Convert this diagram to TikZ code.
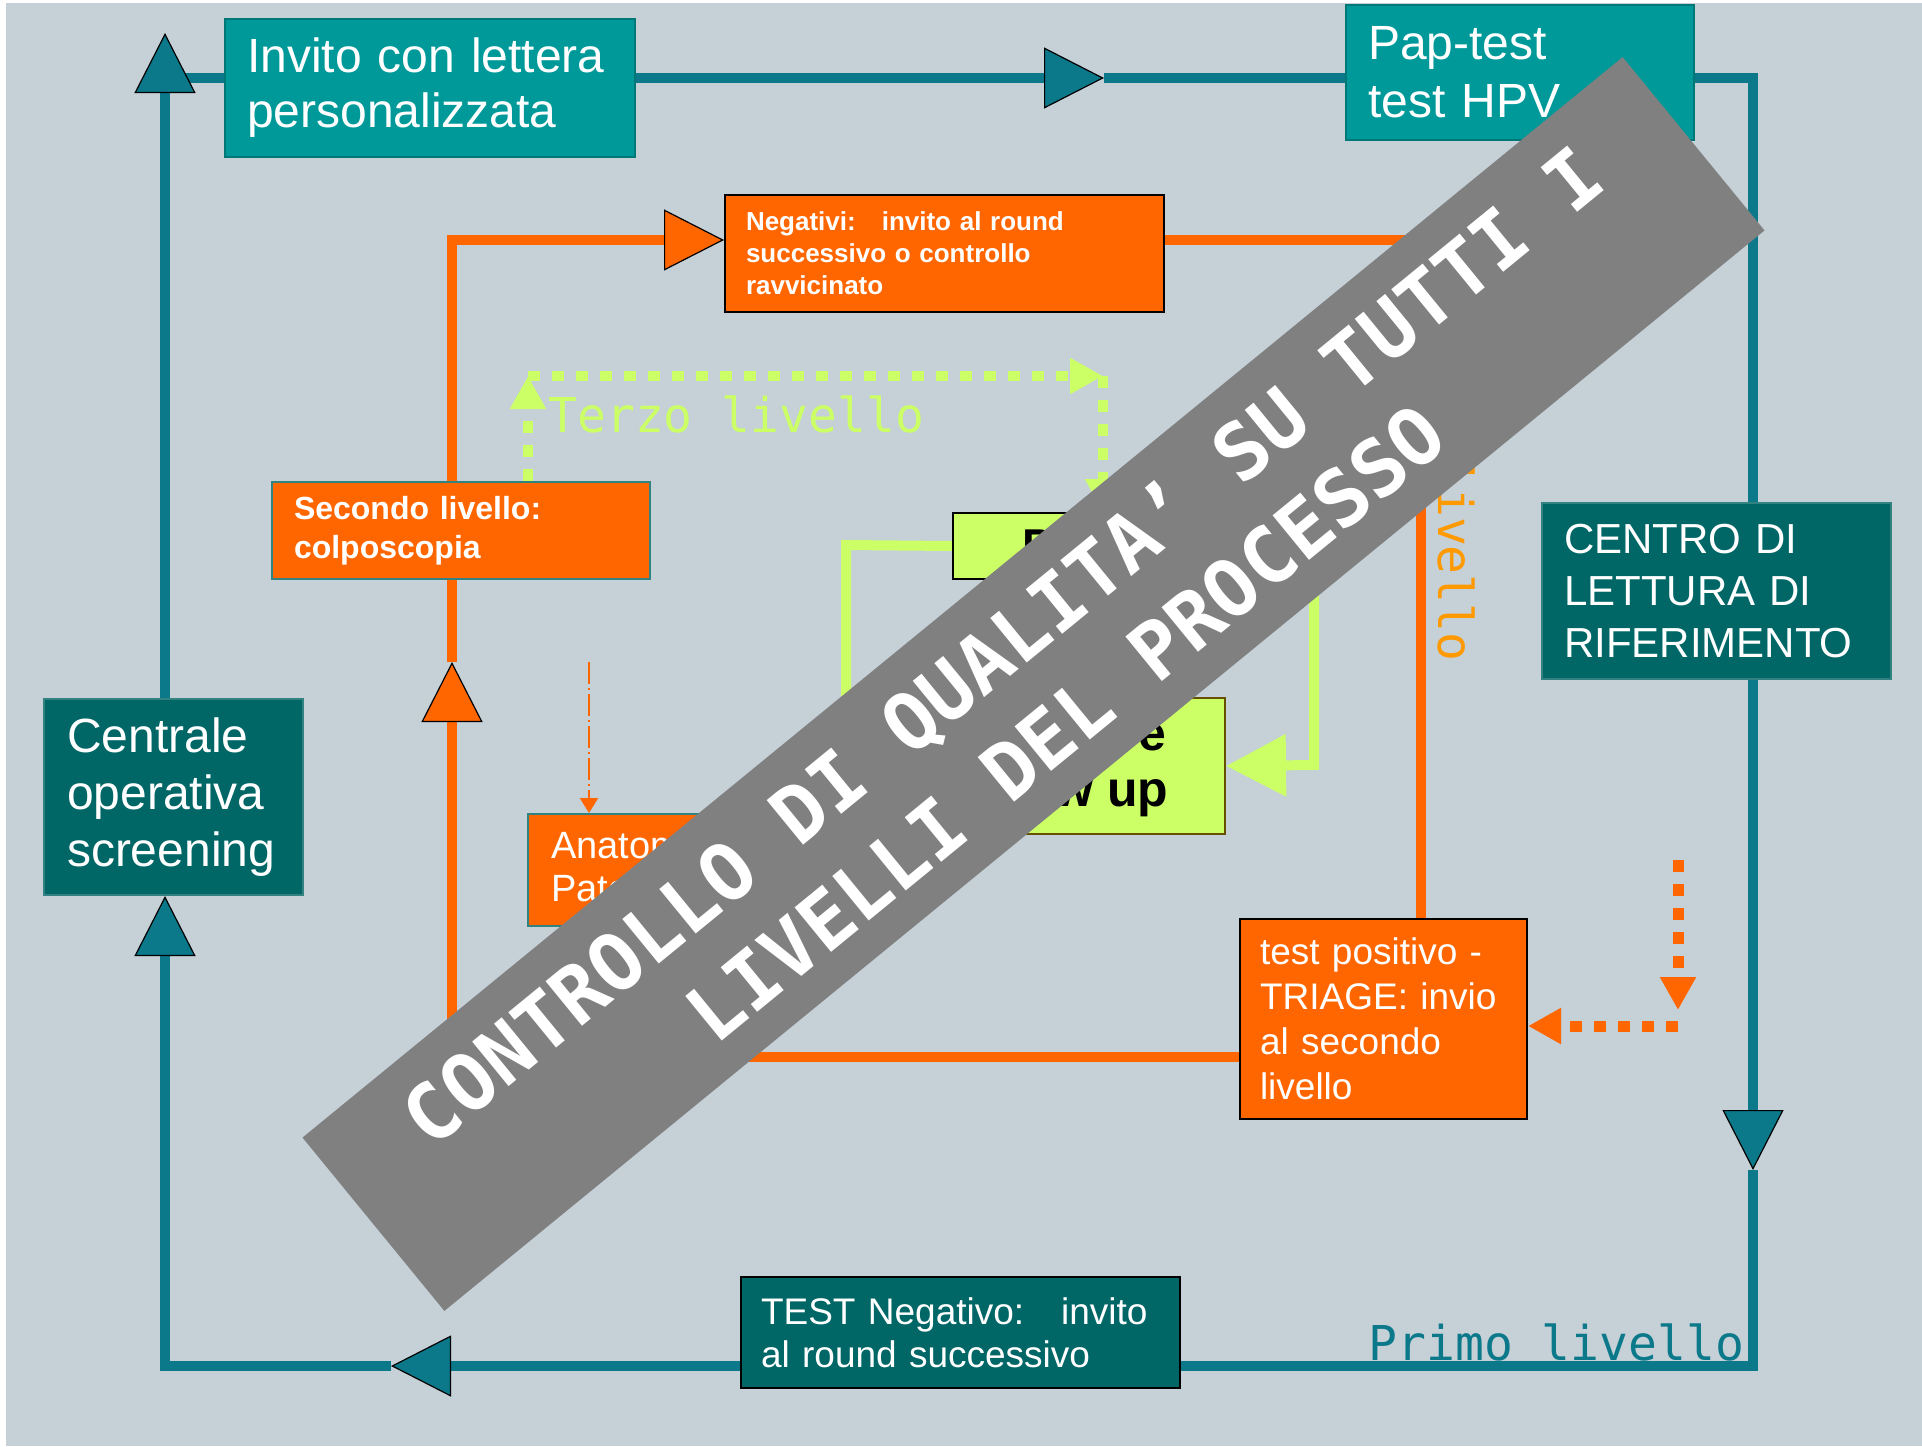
\documentclass[tikz,border=0pt]{standalone}
\usepackage{tikz}
\usepackage{xcolor}
\usepackage{fontspec}
\setmainfont{Liberation Sans}
\newfontfamily\codefont{DejaVu Sans Mono}
\usetikzlibrary{arrows.meta}
\pgfdeclarelayer{back}
\pgfdeclarelayer{lines}
\pgfsetlayers{back,lines,main}
\definecolor{bgcol}{RGB}{197,208,215}
\definecolor{lineblue}{RGB}{12,121,139}
\definecolor{tealbox}{RGB}{0,153,153}
\definecolor{tealedge}{RGB}{0,120,120}
\definecolor{darkteal}{RGB}{0,102,102}
\definecolor{darkedge}{RGB}{50,130,130}
\definecolor{lineorange}{RGB}{255,102,0}
\definecolor{labelorange}{RGB}{255,153,0}
\definecolor{linegreen}{RGB}{204,255,102}
\definecolor{greenedge}{RGB}{102,80,0}
\definecolor{bannergrey}{RGB}{128,128,128}
\tikzset{%
  tipB/.tip={Triangle[length=30pt,width=30.5pt,line width=.6pt,color=black,fill=lineblue]},
  tipO/.tip={Triangle[length=30pt,width=30.5pt,line width=.6pt,color=black,fill=lineorange]},
  tipG/.tip={Triangle[length=30pt,width=30pt]},
  tipD/.tip={Triangle[length=16.5pt,width=17pt]},
  tipS/.tip={Triangle[length=7.5pt,width=9pt]},
  bline/.style={color=lineblue, line width=5pt},
  oline/.style={color=lineorange, line width=5pt},
  gline/.style={color=linegreen, line width=5pt},
  odots/.style={color=lineorange, line width=5.5pt, dash pattern=on 6pt off 6pt},
  gdots/.style={color=linegreen, line width=5pt, dash pattern=on 6pt off 6pt},
  ddash/.style={color=lineorange, line width=1pt, dash pattern=on 11pt off 2pt on 1pt off 2pt},
  boxL/.style={anchor=north west, inner ysep=0pt, align=left, text=white, line width=1pt},
  boxC/.style={anchor=north west, inner sep=0pt, align=center, text=black, line width=1pt, fill=linegreen},
  lbl/.style={inner sep=0pt, font=\codefont\fontsize{24}{28}\selectfont},
}

\begin{document}
\begin{tikzpicture}[x=0.5pt,y=-0.5pt]

\useasboundingbox (0,0) rectangle (1922,1446);
\begin{pgfonlayer}{back}
\fill[bgcol] (6,3) rectangle (1922,1446);
\end{pgfonlayer}

% boxes
\node[boxL, fill=tealbox, draw=tealedge, minimum width=205pt, minimum height=69pt, inner xsep=11pt, text width=183pt, font=\fontsize{24}{27.5}\selectfont] (inv) at (224,18) {Invito con lettera\\personalizzata};
\node[boxL, fill=tealbox, draw=tealedge, minimum width=174pt, minimum height=67.5pt, inner xsep=11pt, text width=152pt, font=\fontsize{24}{29}\selectfont] (pap) at (1345,4) {Pap-test\\test HPV};
\node[boxL, fill=darkteal, draw=darkedge, minimum width=129.5pt, minimum height=98pt, inner xsep=11.5pt, text width=106.5pt, font=\fontsize{24}{28.5}\selectfont] (cos) at (43,698) {Centrale\\operativa\\screening};
\node[boxL, fill=darkteal, draw=darkedge, minimum width=174.5pt, minimum height=88pt, inner xsep=11pt, text width=152.5pt, font=\fontsize{21}{26}\selectfont] (cdl) at (1541,502) {CENTRO DI\\LETTURA DI\\RIFERIMENTO};
\node[boxL, fill=darkteal, draw=black, minimum width=219.5pt, minimum height=55.5pt, inner xsep=10pt, text width=199.5pt, font=\fontsize{18.5}{21.5}\selectfont] (tn) at (740,1276) {TEST Negativo:~~~invito\\al round successivo};
\node[boxL, fill=lineorange, draw=black, minimum width=219.5pt, minimum height=58.5pt, inner xsep=10.5pt, text width=198.5pt, font=\bfseries\fontsize{13}{16}\selectfont] (neg) at (724,194) {Negativi:~~~invito al round\\successivo o controllo\\ravvicinato};
\node[boxL, fill=lineorange, draw=darkedge, minimum width=189pt, minimum height=48.5pt, inner xsep=11pt, text width=167pt, font=\bfseries\fontsize{16}{19.5}\selectfont] (sec) at (271,481) {Secondo livello:\\colposcopia};
\node[boxL, fill=lineorange, draw=darkedge, minimum width=120pt, minimum height=56pt, inner xsep=11.5pt, text width=97pt, font=\fontsize{19}{21.5}\selectfont] (ap) at (527,813) {Anatomia\\Patologica};
\node[boxL, fill=lineorange, draw=black, minimum width=143.5pt, minimum height=100pt, inner xsep=10pt, text width=123.5pt, font=\fontsize{18.5}{22.5}\selectfont] (tp) at (1239,918) {test positivo -\\TRIAGE: invio\\al secondo\\livello};
\node[boxC, draw=black, minimum width=169pt, minimum height=33pt, font=\bfseries\fontsize{23}{27}\selectfont] (ub) at (952,512) {Percorso};
\node[boxC, draw=greenedge, minimum width=166.5pt, minimum height=68pt, font=\bfseries\fontsize{25}{28}\selectfont] (lb) at (891,697) {Terapia e\\follow up};

\coordinate (bTL) at (165,78);
\coordinate (bTR) at (1753,78);
\coordinate (bBR) at (1753,1366);
\coordinate (bBL) at (165,1366);
\coordinate (bUp) at (165,33);
\coordinate (bRt) at (1104,78);
\coordinate (bDn) at (1753,1170);
\coordinate (bLt) at (391,1366);
\coordinate (oBL) at (452,1057);
\coordinate (oUp) at (452,662);
\coordinate (oTL) at (452,240);
\coordinate (oTR) at (1421,240);
\coordinate (oDs) at (1678,860);
\coordinate (oDt) at (1678,1010);
\coordinate (oDc) at (1678,1026);
\coordinate (gUL) at (528,376);
\coordinate (gUR) at (1103,376);
\coordinate (gL) at (846,545);
\coordinate (gR) at (1314,765);
\coordinate (dd) at (589,662);

\begin{pgfonlayer}{lines}
% primo livello
\draw[bline, -tipB] (bTL) -- (bRt);
\draw[bline, -tipB] (bRt) -- (bTR) -- (bDn);
\draw[bline, -tipB] (bDn) -- (bBR) -- (bLt);
\draw[bline, -tipB] (bLt) -- (bBL) -- (bBL |- cos.south);
\draw[bline, -tipB] (cos.north -| bTL) -- (bUp);

% secondo livello
\draw[oline, -tipO] (oBL -| tp.west) -- (oBL) -- (oUp);
\draw[oline, -tipO] (oUp) -- (oTL) -- (oTL -| neg.west);
\draw[oline] (oTL -| neg.east) -- (oTR) -- (oTR |- tp.north);
\draw[odots, -tipD] (oDs) -- (oDt);
\draw[odots, -tipD] (oDc) -- (oDc -| tp.east);
\draw[ddash, -tipS] (dd) -- (dd |- ap.north);

% terzo livello
\draw[gdots, -tipD] (gUL |- sec.north) -- (gUL);
\draw[gdots, -tipD] (gUL) -- (gUR);
\draw[gdots, -tipD] (gUR) -- (gUR |- ub.north);
\draw[gline] (ub.west) -- (gL) |- (lb.west);
\draw[gline, -tipG] (ub.east) -| (gR) -- (lb.east);
\end{pgfonlayer}

% labels
\node[lbl, text=lineblue, anchor=base west] (l1) at (1368,1360) {Primo livello};
\node[lbl, text=labelorange, rotate=-90, anchor=base east] (l2) at (1438,662) {Secondo livello};
\node[lbl, text=linegreen, anchor=base west] (l3) at (548,432) {Terzo livello};

% banner
\node[fill=bannergrey, text=white, inner sep=0pt, align=center, rotate=39.3, minimum width=853pt, minimum height=112pt, font=\codefont\bfseries\fontsize{39.5}{50}\selectfont] (qc) at (1033.5,684) {CONTROLLO DI QUALITA’ SU TUTTI I\\LIVELLI DEL PROCESSO};
\end{tikzpicture}
\end{document}
